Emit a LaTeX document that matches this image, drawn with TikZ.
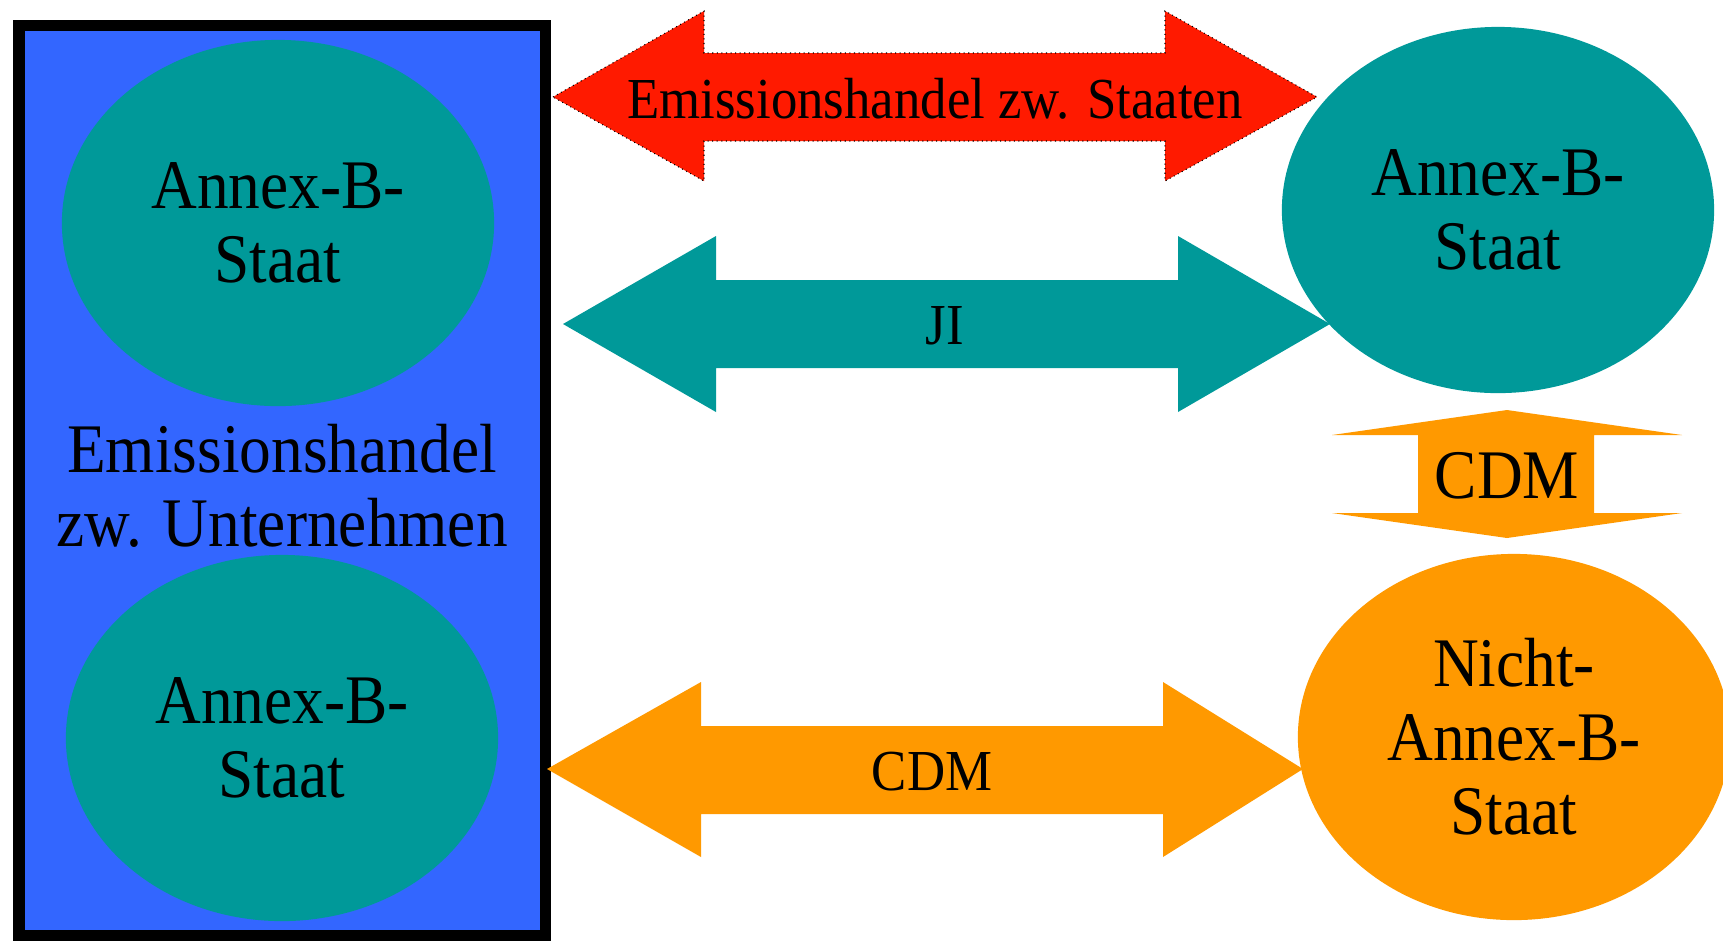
\documentclass[tikz,border=0pt]{standalone}
\usepackage{fontspec}
\setmainfont{Liberation Serif}[FakeStretch=0.91]
\usetikzlibrary{shapes.geometric}
\definecolor{boxblue}{HTML}{3366FF}
\definecolor{staatteal}{HTML}{009999}
\definecolor{handelred}{HTML}{FF1A00}
\definecolor{cdmorange}{HTML}{FF9900}
\tikzset{
  staat/.style={ellipse, fill=#1, inner sep=0pt, minimum width=4.32cm, minimum height=3.66cm,
    align=center, font=\fontsize{19.8}{21}\selectfont},
  biglabel/.style={align=center, inner sep=0pt, font=\fontsize{19.8}{21}\selectfont},
  arrowlabel/.style={inner sep=0pt, font=\fontsize{16.5}{18}\selectfont}
}
\begin{document}
\begin{tikzpicture}[x=0.01cm,y=-0.01cm]
\useasboundingbox (0,0) rectangle (1723,941);

\draw[line width=0.11cm, fill=boxblue] (19,25) rectangle (545,935); % Box of company trading

\node[staat=staatteal] (staatA) at (278,223) {Annex-B-\\Staat};
\node[staat=staatteal] (staatB) at (282,738) {Annex-B-\\Staat};
\node[biglabel] (firms) at (282,486) {Emissionshandel\\zw. Unternehmen};

\node[staat=staatteal] (staatC) at (1498,210) {Annex-B-\\Staat};
\node[staat=cdmorange] (staatD) at (1514,737) {Nicht-\\Annex-B-\\Staat};

% Trading between states
\filldraw[fill=handelred, draw=black, densely dotted, line width=0.3pt]
  (553,97) -- (704,11) -- (704,53) -- (1165,53) -- (1165,11) -- (1317,97)
  -- (1165,181) -- (1165,141) -- (704,141) -- (704,181) -- cycle;
\node[arrowlabel] (handel) at (935,99) {Emissionshandel zw. Staaten};

% Joint implementation
\fill[staatteal] (563,324) -- (716,236) -- (716,280) -- (1178,280) -- (1178,236) -- (1330,324)
  -- (1178,412) -- (1178,368) -- (716,368) -- (716,412) -- cycle;
\node[arrowlabel] (ji) at (945,326) {JI};

% CDM - horizontal
\fill[cdmorange] (547,769) -- (701,682) -- (701,726) -- (1163,726) -- (1163,682) -- (1303,769)
  -- (1163,857) -- (1163,814) -- (701,814) -- (701,857) -- cycle;
\node[arrowlabel] (cdmA) at (932,772) {CDM};

% CDM - vertical
\fill[cdmorange] (1507,410) -- (1682,435) -- (1594,435) -- (1594,513) -- (1682,513) -- (1507,538)
  -- (1332,513) -- (1418,513) -- (1418,435) -- (1332,435) -- cycle;
\node[biglabel] (cdmB) at (1507,476) {CDM};

\end{tikzpicture}
\end{document}
